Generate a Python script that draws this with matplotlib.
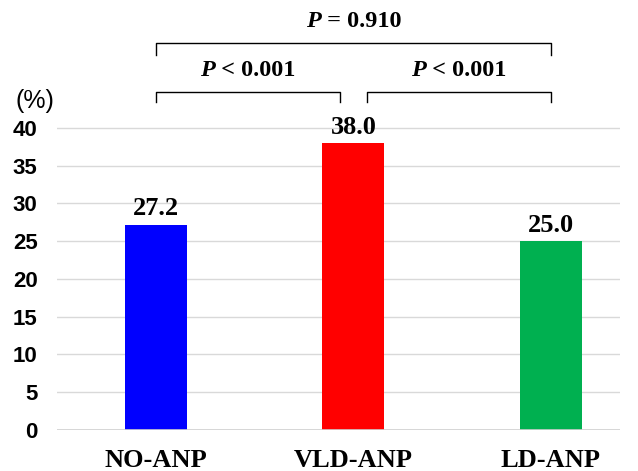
import matplotlib.pyplot as plt
import matplotlib.transforms as mtransforms
import numpy as np

groups = ["NO-ANP", "VLD-ANP", "LD-ANP"]
rates = [27.2, 38.0, 25.0]
colors = ["#0000FF", "#FF0000", "#00B050"]
yticks = [0, 5, 10, 15, 20, 25, 30, 35, 40]
p_texts = ["P < 0.001", "P < 0.001", "P = 0.910"]

serif = "Liberation Serif"
sans = "Liberation Sans"

fig = plt.figure(figsize=(6.38, 4.71), dpi=100)
ax = fig.add_axes([57/638, 41/471, (620-57)/638, 430/471])

x = np.arange(len(groups))
ax.bar(x, rates, width=0.315, color=colors, zorder=3)
for xi, v in zip(x, rates):
    ax.text(xi, v + 0.6, f"{v:.1f}", ha="center", va="bottom",
            fontfamily=serif, fontweight="bold", fontsize=19)

ax.set_xlim(-0.5, 2.35)
ax.set_ylim(0, 56.95)
ax.set_yticks(yticks)
ax.set_yticklabels([str(t) for t in yticks], fontfamily=sans,
                   fontweight="bold", fontsize=16)
ax.set_xticks(x)
ax.set_xticklabels(groups, fontfamily=serif, fontweight="bold", fontsize=19)
ax.tick_params(axis="y", length=0, pad=14)
ax.tick_params(axis="x", length=0, pad=14)
for t in yticks[1:]:
    ax.axhline(t, color="#d9d9d9", lw=1, zorder=1)
ax.axhline(0, color="#d0d0d0", lw=1.2, zorder=4)
for s in ax.spines.values():
    s.set_visible(False)

ax.text(-0.515, 43.6, "(%)", ha="right", va="center", fontfamily=sans,
        fontsize=18)

labels = []


def draw_bracket(x1, x2, y, h, label):
    ax.plot([x1, x1, x2, x2], [y - h, y, y, y - h], color="black", lw=1,
            clip_on=False)
    sym, rest = label.split(" ", 1)
    xc = (x1 + x2) / 2
    t1 = ax.text(xc, y + 1.45, sym, ha="left", va="bottom", fontfamily=serif,
                 fontweight="bold", fontstyle="italic", fontsize=17.5)
    t2 = ax.text(xc, y + 1.45, " " + rest, ha="left", va="bottom",
                 fontfamily=serif, fontweight="bold", fontsize=17.5)
    labels.append((t1, t2))


draw_bracket(0.0, 0.935, 44.8, 1.4, p_texts[0])
draw_bracket(1.07, 2.0, 44.8, 1.4, p_texts[1])
draw_bracket(0.0, 2.0, 51.3, 1.6, p_texts[2])

# center the two-part P labels
fig.canvas.draw()
r = fig.canvas.get_renderer()
for t1, t2 in labels:
    w1 = t1.get_window_extent(r).width
    w2 = t2.get_window_extent(r).width
    shift = -(w1 + w2) / 2
    t1.set_transform(ax.transData + mtransforms.Affine2D().translate(shift, 0))
    t2.set_transform(ax.transData + mtransforms.Affine2D().translate(shift + w1, 0))

fig.savefig("out.png", dpi=100)
